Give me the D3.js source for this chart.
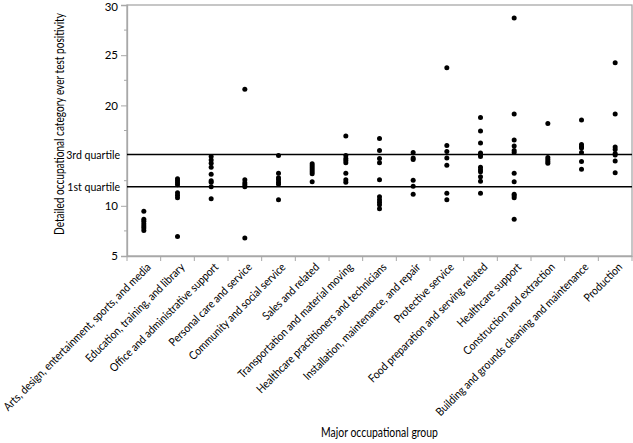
<!DOCTYPE html>
<html><head><meta charset="utf-8">
<script src="https://cdn.jsdelivr.net/npm/d3@7"></script>
<style>body{margin:0;background:#fff}svg{display:block}text{font-family:Lato,"Open Sans",sans-serif;fill:#000}</style>
</head><body>
<svg id="c" width="633" height="443"></svg>
<script>
const categories = ["Arts, design, entertainment, sports, and media","Education, training, and library","Office and administrative support","Personal care and service","Community and social service","Sales and related","Transportation and material moving","Healthcare practitioners and technicians","Installation, maintenance, and repair","Protective service","Food preparation and serving related","Healthcare support","Construction and extraction","Building and grounds cleaning and maintenance","Production"];
const arts = [9.45,8.65,8.45,8.2,8.0,7.8,7.55];
const education = [12.7,12.5,12.3,12.1,11.3,11.05,10.8,6.95];
const office = [14.9,14.55,14.25,13.85,13.15,12.5,12.35,11.9,10.7];
const personalCare = [21.6,12.6,12.3,12.1,11.9,6.8];
const community = [15.0,13.25,12.8,12.6,12.35,12.15,10.6];
const sales = [14.2,14.0,13.8,13.6,13.4,13.2,12.4];
const transportation = [16.95,15.0,14.7,14.5,14.3,13.25,12.6,12.35];
const healthPract = [16.7,15.5,14.7,14.3,12.6,10.9,10.6,10.35,10.1,9.7];
const installation = [15.3,14.75,14.6,12.55,11.95,11.15];
const protective = [23.75,16.0,15.4,14.75,14.05,11.25,10.6];
const foodPrep = [18.8,17.45,16.25,15.25,15.1,14.9,13.85,13.6,13.4,12.9,12.45,11.25];
const healthSupport = [28.7,19.15,16.55,15.95,15.5,15.3,13.25,12.4,11.15,11.0,10.8,8.65];
const construction = [18.2,14.8,14.6,14.4,14.25];
const building = [18.55,16.1,15.9,15.75,15.3,14.4,13.65];
const production = [24.25,19.15,15.85,15.6,15.2,15.05,14.45,13.3];
const seriesValues = [arts,education,office,personalCare,community,sales,transportation,healthPract,installation,protective,foodPrep,healthSupport,construction,building,production];
const yTicks = [5,10,20,25,30];
const quartiles = [{label:"3rd quartile", value:15.1},{label:"1st quartile", value:11.9}];

const svg = d3.select("#c");
const L=127, R=632, T=5, B=256;
const x = d3.scaleBand().domain(categories).range([L,R]);
const y = d3.scaleLinear().domain([5,30]).range([B,T]);

function squeeze(sel, factor){
  sel.each(function(){
    const w = this.getComputedTextLength();
    d3.select(this).attr("textLength", w*factor).attr("lengthAdjust","spacingAndGlyphs");
  });
}

// frame
svg.append("rect").attr("x",L).attr("y",T).attr("width",R-L).attr("height",B-T)
  .attr("fill","none").attr("stroke","#a8a8a8").attr("stroke-width",1.3);

// y axis
const yAxis = svg.append("g").attr("transform",`translate(${L},0)`)
  .call(d3.axisLeft(y).tickValues(yTicks).tickSize(6).tickPadding(3).tickFormat(d3.format("d")));
yAxis.select(".domain").attr("stroke","#a8a8a8").attr("stroke-width",1.3);
yAxis.selectAll(".tick line").attr("stroke","#a8a8a8");
yAxis.selectAll("text").attr("font-size",11.5).style("font-family",'Lato,"Open Sans",sans-serif')
  .attr("y", d => d === 30 ? 1.5 : 0);
const minor = d3.range(7.5,30,5);
svg.append("g").selectAll("line").data(minor).join("line")
  .attr("x1",L-3).attr("x2",L).attr("y1",d=>y(d)).attr("y2",d=>y(d)).attr("stroke","#a8a8a8");

// quartile lines & labels
svg.append("g").selectAll("line").data(quartiles).join("line")
  .attr("x1",L).attr("x2",R).attr("y1",d=>y(d.value)).attr("y2",d=>y(d.value))
  .attr("stroke","#000").attr("stroke-width",1.5);
const ql = svg.append("g").selectAll("text").data(quartiles).join("text")
  .attr("x",L-7).attr("y",d=>y(d.value)).attr("dy","0.35em").attr("text-anchor","end")
  .attr("font-size",12).text(d=>d.label);
squeeze(ql, 0.88);

// x axis
const xAxis = svg.append("g").attr("transform",`translate(0,${B})`)
  .call(d3.axisBottom(x).tickSize(0).tickFormat(""));
xAxis.select(".domain").attr("stroke","#a8a8a8").attr("stroke-width",1.3);
const bounds = categories.map(c=>x(c)).concat([R]);
svg.append("g").selectAll("line").data(bounds).join("line")
  .attr("x1",d=>d).attr("x2",d=>d).attr("y1",B).attr("y2",B+5).attr("stroke","#a8a8a8");
const xl = svg.append("g").selectAll("text").data(categories).join("text")
  .attr("transform",c=>`translate(${x(c)+x.bandwidth()/2+5},${B+9}) rotate(-45)`)
  .attr("text-anchor","end").attr("dy","0.35em").attr("font-size",11.5).text(c=>c);
const artsW = xl.nodes()[0].getComputedTextLength();
squeeze(xl, 203/artsW);

// points
const pts = [];
categories.forEach((c,i)=>seriesValues[i].forEach(v=>pts.push({c,v})));
svg.append("g").selectAll("circle").data(pts).join("circle")
  .attr("cx",d=>x(d.c)+x.bandwidth()/2).attr("cy",d=>y(d.v)).attr("r",2.5).attr("fill","#000");

// titles
const yt = svg.append("text").attr("text-anchor","middle").attr("font-size",12.5)
  .text("Detailed occupational category ever test positivity");
const ytf = 222/yt.node().getComputedTextLength();
yt.attr("transform",`translate(64,124) rotate(-90) scale(${ytf},1)`);
const xt = svg.append("text").attr("text-anchor","middle").attr("font-size",12.5)
  .text("Major occupational group");
const xtf = 117/xt.node().getComputedTextLength();
xt.attr("transform",`translate(${(L+R)/2},437) scale(${xtf},1)`);
</script>
</body></html>
